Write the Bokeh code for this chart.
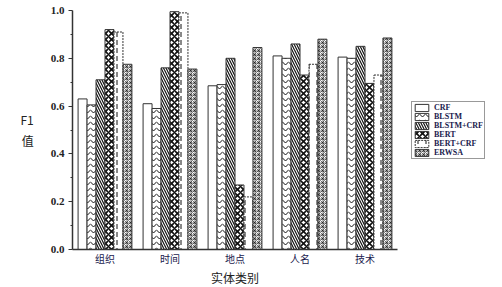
from bokeh.plotting import figure
from bokeh.models import (FactorRange, Range1d, Legend, LegendItem, ColumnDataSource,
                          FixedTicker, PrintfTickFormatter)
from bokeh.transform import dodge
from bokeh.embed import file_html
from bokeh.resources import INLINE

categories = ["组织", "时间", "地点", "人名", "技术"]
models = ["CRF", "BLSTM", "BLSTM+CRF", "BERT", "BERT+CRF", "ERWSA"]
crf = [0.63, 0.61, 0.685, 0.81, 0.805]
blstm = [0.605, 0.59, 0.69, 0.80, 0.80]
blstm_crf = [0.71, 0.76, 0.80, 0.86, 0.85]
bert = [0.92, 0.995, 0.27, 0.73, 0.695]
bert_crf = [0.91, 0.99, 0.22, 0.775, 0.73]
erwsa = [0.775, 0.755, 0.845, 0.88, 0.885]
yticks = [0.0, 0.2, 0.4, 0.6, 0.8, 1.0]

series = [crf, blstm, blstm_crf, bert, bert_crf, erwsa]
keys = ["crf", "blstm", "blstm_crf", "bert", "bert_crf", "erwsa"]
data = {"cat": categories}
for k, s in zip(keys, series):
    data[k] = s
src = ColumnDataSource(data)

styles = [
    dict(hatch_pattern=" ", line_dash="solid"),
    dict(hatch_pattern="v", hatch_scale=6, hatch_weight=1.0, line_dash="solid"),
    dict(hatch_pattern="\\", hatch_scale=5, hatch_weight=1.2, line_dash="solid"),
    dict(hatch_pattern="x", hatch_scale=6, hatch_weight=1.6, line_dash="solid"),
    dict(hatch_pattern=":", hatch_scale=8, hatch_weight=1.0, line_dash="2 1"),
    dict(hatch_pattern="*", hatch_scale=4, hatch_weight=0.6, line_dash="solid"),
]

p = figure(frame_width=325, frame_height=239, x_range=FactorRange(*categories),
           y_range=Range1d(0, 1.0),
           output_backend="svg", toolbar_location=None,
           min_border_left=72, min_border_right=10, min_border_top=10, min_border_bottom=30)

w = 0.138
items = []
for i, (k, name, st) in enumerate(zip(keys, models, styles)):
    r = p.vbar(x=dodge("cat", (i - 2.5) * w, range=p.x_range), top=k, width=w, source=src,
               fill_color="white", line_color="#333333", line_width=1,
               hatch_color="#111111", **st)
    items.append(LegendItem(label=name, renderers=[r]))

p.xgrid.visible = False
p.ygrid.visible = False
p.outline_line_color = None
p.background_fill_color = "white"

p.yaxis.ticker = FixedTicker(ticks=yticks, minor_ticks=[0.1, 0.3, 0.5, 0.7, 0.9])
p.yaxis.formatter = PrintfTickFormatter(format="%.1f")
p.yaxis.major_label_text_font = "Liberation Serif"
p.yaxis.major_label_text_font_size = "11px"
p.yaxis.major_label_text_font_style = "bold"
p.yaxis.major_label_text_color = "#222222"
p.yaxis.major_label_standoff = 4
p.yaxis.axis_line_width = 1.5
p.yaxis.axis_line_color = "#333333"
p.yaxis.major_tick_line_color = "#333333"
p.yaxis.minor_tick_line_color = "#333333"
p.yaxis.major_tick_in = 0
p.yaxis.major_tick_out = 4
p.yaxis.minor_tick_in = 0
p.yaxis.minor_tick_out = 2
p.yaxis.axis_label = "F1\n值"
p.yaxis.axis_label_text_font = "Noto Sans CJK SC"
p.yaxis.axis_label_text_font_size = "12px"
p.yaxis.axis_label_text_font_style = "normal"
p.yaxis.axis_label_text_color = "#222222"
p.yaxis.axis_label_standoff = 14
try:
    p.yaxis.axis_label_orientation = "horizontal"
except Exception:
    pass

p.xaxis.axis_line_width = 1.5
p.xaxis.axis_line_color = "#333333"
p.xaxis.major_tick_line_color = None
p.xaxis.minor_tick_line_color = None
p.xaxis.major_tick_out = 0
p.xaxis.major_tick_in = 0
p.xaxis.major_label_text_font = "Noto Sans CJK SC"
p.xaxis.major_label_text_font_size = "10px"
p.xaxis.major_label_text_color = "#1a1a4e"
p.xaxis.major_label_standoff = 1
p.xaxis.axis_label = "实体类别"
p.xaxis.axis_label_text_font = "Noto Sans CJK SC"
p.xaxis.axis_label_text_font_size = "12px"
p.xaxis.axis_label_text_font_style = "normal"
p.xaxis.axis_label_text_color = "#222222"
p.xaxis.axis_label_standoff = 0

legend = Legend(items=items, location="center_left", orientation="vertical",
                glyph_width=17, glyph_height=9, label_height=9, spacing=0, padding=1,
                margin=14, label_standoff=4, label_text_font="Liberation Serif",
                label_text_font_size="8px", label_text_font_style="bold",
                label_text_color="#1a1a4e", border_line_color="#333333",
                border_line_width=1, background_fill_color="white", background_fill_alpha=1)
p.add_layout(legend, "right")

open("out.html", "w").write(file_html(p, INLINE))
